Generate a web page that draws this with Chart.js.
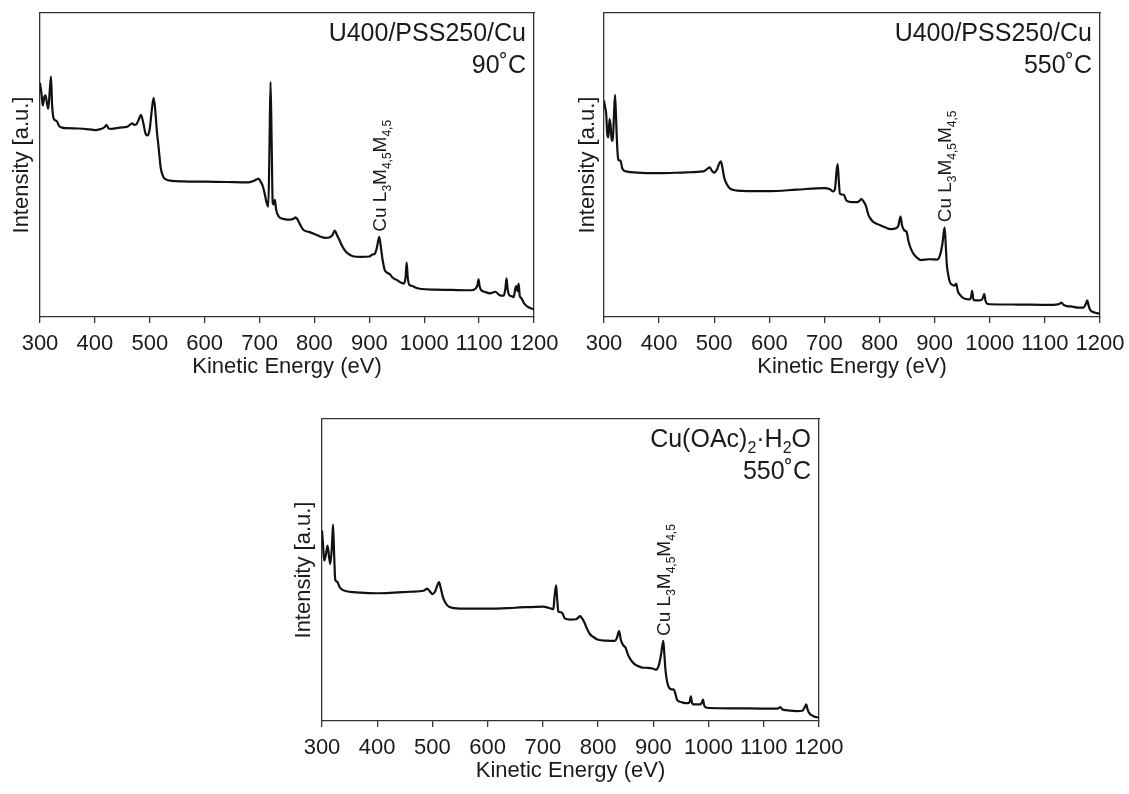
<!DOCTYPE html>
<html>
<head>
<meta charset="utf-8">
<script src="https://cdn.jsdelivr.net/npm/chart.js@4.4.1/dist/chart.umd.min.js"></script>
<style>
  body { margin: 0; background: #fff; width: 1129px; height: 794px; overflow: hidden; position: relative; }
  canvas { position: absolute; }
</style>
</head>
<body>
<canvas id="c1" width="560" height="390" style="left:0px;top:0px"></canvas>
<canvas id="c2" width="564" height="390" style="left:565px;top:0px"></canvas>
<canvas id="c3" width="570" height="404" style="left:280px;top:390px"></canvas>
<script>
// x axis ticks (eV)
var xTicks = [300, 400, 500, 600, 700, 800, 900, 1000, 1100, 1200];
var peakEnergy = 918;

// U400/PSS250/Cu, 90 C
var energy1 = [300,303,305,308,310,313,315,318,320,322,325,330,335,340,350,370,390,400,410,418,421,425,430,445,460,468,472,476,480,484,488,492,496,500,503,507,510,513,516,520,525,530,540,560,600,640,680,690,695,698,702,706,710,713,716,718,720,722,724,726,728,730,735,745,755,762,766,770,775,780,790,800,810,820,828,833,837,841,845,850,855,860,870,885,900,905,910,914,918,921,924,928,933,938,942,950,958,963,966,968,970,973,978,985,995,1020,1050,1085,1093,1097,1099,1101,1104,1110,1120,1130,1135,1140,1145,1148,1150,1152,1155,1160,1163,1166,1168,1170,1172,1174,1177,1182,1190,1200];
var intensity1 = [77,73,69.6,72.5,72.9,70,68.5,75,79.1,70,65.2,64.5,62.8,62.3,62.1,62,61.7,61.5,61.8,62.5,63.2,62,61.9,62.3,62.7,63.7,63.2,63.5,65,66.5,64,60.5,59.7,62,67,72.1,68,61,56,49,46,45.2,44.8,44.6,44.5,44.4,44.3,44.8,45.3,45.5,44.5,43,40,37.5,36.3,55,77.3,58,37.5,37,38.5,35.5,33,32.2,32,32.3,32.8,31.8,30,28.6,28,27.3,26.5,26,26.2,27,28.4,27,25.5,23.5,22,21,20,19.8,19.9,20.5,20.8,23,26.4,23,19,15.5,14.5,14,13,12.2,11.3,11,13,17.9,13,10.5,10.2,9.6,9.2,9,8.9,8.8,9.3,10.5,12.4,10,8.8,8.3,7.8,8.3,7.5,7,7,9.5,12.7,9,7.2,6.8,6.5,9.5,10.2,8.5,11,7,6.2,4.5,3.2,2.5];

// U400/PSS250/Cu, 550 C
var energy2 = [300,302,304,306,308,310,312,314,316,318,320,322,324,326,328,330,333,336,340,360,400,450,480,488,492,496,500,505,509,512,515,518,522,530,550,600,650,700,710,716,719,722,724,726,728,732,735,740,750,760,764,767,771,775,780,785,790,800,810,820,830,834,838,841,845,849,853,858,862,868,875,890,905,910,914,918,920,922,925,928,933,936,939,942,945,950,955,963,966,968,970,973,980,985,988,990,992,995,1000,1050,1100,1120,1126,1130,1134,1140,1150,1160,1170,1174,1177,1179,1182,1190,1200];
var intensity2 = [71.2,69,66.8,60,59.1,65.2,63,58,58,66,73.1,65,55.8,51.8,51.5,51.4,49,48.2,47.9,47.5,47.3,47.6,47.9,48.8,49.2,48,47.5,48.5,50.5,51.2,49,46,44,42.1,41.5,41.4,41.9,42.4,42,41.3,42,48,50.3,45,40.6,40.3,40.2,38.3,37.8,37.8,38.3,38.8,38,36.6,33.5,32,31.1,30.3,29.5,28.9,29.2,30,33,30,28.5,28,24.5,22,20.7,19.5,18.7,19,18.9,20.5,24,29.5,24,17.4,13.5,11.3,10.5,10.3,11,8.5,7.5,6.5,6,5.8,6.5,8.6,6,5.5,5.5,5.6,6.5,7.5,5.5,4.4,4.2,4.1,4,4.1,4.3,4.7,4,3.6,3.4,3.1,3.1,4.2,5.5,4,2.4,1.5,1.1];

// Cu(OAc)2.H2O, 550 C
var energy3 = [300,302,304,307,310,313,315,318,320,322,324,326,328,332,336,340,370,400,430,460,485,490,495,500,505,509,512,515,519,524,530,550,600,650,700,710,715,719,721,724,726,728,733,736,740,750,760,764,767,771,775,780,785,790,800,815,830,834,838,841,845,850,854,858,865,870,880,890,900,905,910,914,918,920,922,925,928,933,937,940,943,950,955,963,966,968,970,973,985,988,990,992,995,1000,1050,1100,1125,1130,1134,1140,1160,1170,1174,1177,1179,1182,1190,1200];
var intensity3 = [63.1,58,53.1,55,58.1,54,52,58,65,55,46.8,46.3,46,44.3,43.6,43.2,42.5,42.3,42.5,42.8,43.2,43.8,43,42,43,45,46,44,41,39,37.8,37.2,37.2,37.5,37.9,37.5,37.2,37,41,44.9,40,36.2,36,35.5,33.9,33.6,33.7,34.2,34.7,34,32.7,30.5,28.8,28,26.9,26.6,26.5,27.5,29.8,27,25.2,24.2,22,20.6,19,18.4,17.7,17.6,17.3,17,18.5,22,26.5,22,16.8,13,11.2,10.5,10.4,9,7,6.3,6,5.9,6.5,8.2,6,5.5,5.5,6.2,7.1,5.2,4.5,4.3,4.2,4.1,4.1,4.6,3.8,3.6,3.3,3.4,4.5,5.5,4,2.7,1.6,1.1];

// sample labels as [text, isSubscript] runs
var sampleNames = [
  [['U400/PSS250/Cu', 0]],
  [['U400/PSS250/Cu', 0]],
  [['Cu(OAc)', 0], ['2', 1], ['\u00b7H', 0], ['2', 1], ['O', 0]]
];
var temperatures = ['90\u02daC', '550\u02daC', '550\u02daC'];
var peakLabel = [['Cu L', 0], ['3', 1], ['M', 0], ['4,5', 1], ['M', 0], ['4,5', 1]];

var FONT = '"Liberation Sans", Arial, sans-serif';
var frame = '#333';
var textColor = '#1a1a1a';

var panels = [
  { id: 'c1', energy: energy1, intensity: intensity1, w: 560, h: 390, l: 40, t: 13, r: 534, b: 317, titleOff: 22 },
  { id: 'c2', energy: energy2, intensity: intensity2, w: 564, h: 390, l: 39, t: 13, r: 535, b: 317, titleOff: 23 },
  { id: 'c3', energy: energy3, intensity: intensity3, w: 570, h: 404, l: 42, t: 29, r: 539, b: 331, titleOff: 24 }
];

function drawRuns(ctx, runs, x, y, size, align) {
  var widths = runs.map(function (r) {
    ctx.font = (r[1] ? Math.round(size * 0.65) : size) + 'px ' + FONT;
    return ctx.measureText(r[0]).width;
  });
  var total = widths.reduce(function (a, b) { return a + b; }, 0);
  var cx = align === 'right' ? x - total : (align === 'center' ? x - total / 2 : x);
  runs.forEach(function (r, i) {
    ctx.font = (r[1] ? Math.round(size * 0.65) : size) + 'px ' + FONT;
    ctx.fillText(r[0], cx, y + (r[1] ? size * 0.25 : 0));
    cx += widths[i];
  });
}

var textPlugin = {
  id: 'annot',
  afterDraw: function (chart, args, opts) {
    var k = opts.panel;
    var p = panels[k];
    var ctx = chart.ctx, area = chart.chartArea;
    ctx.save();
    ctx.fillStyle = textColor;
    ctx.textAlign = 'left';
    ctx.textBaseline = 'alphabetic';
    drawRuns(ctx, sampleNames[k], area.right - 8, area.top + 28, 25, 'right');
    drawRuns(ctx, [[temperatures[k], 0]], area.right - 8, area.top + 60, 25, 'right');
    var i = p.energy.indexOf(peakEnergy);
    var px = chart.scales.x.getPixelForValue(peakEnergy);
    var py = chart.scales.y.getPixelForValue(p.intensity[i]) - 5;
    ctx.translate(px, py);
    ctx.rotate(-Math.PI / 2);
    drawRuns(ctx, peakLabel, 0, 19 * 0.36, 19, 'left');
    ctx.restore();
  }
};

panels.forEach(function (p, k) {
  var points = p.energy.map(function (e, i) { return { x: e, y: p.intensity[i] }; });
  new Chart(document.getElementById(p.id), {
    type: 'line',
    data: {
      datasets: [{
        data: points,
        borderColor: '#111',
        borderWidth: 2.2,
        pointRadius: 0,
        fill: false,
        cubicInterpolationMode: 'monotone'
      }]
    },
    options: {
      responsive: false,
      animation: false,
      events: [],
      layout: { padding: { top: p.t, right: p.w - p.r, left: 0, bottom: 0 } },
      plugins: {
        legend: { display: false },
        tooltip: { enabled: false },
        annot: { panel: k }
      },
      scales: {
        x: {
          type: 'linear', position: 'bottom', min: 300, max: 1200,
          afterBuildTicks: function (s) { s.ticks = xTicks.map(function (v) { return { value: v }; }); },
          afterFit: function (s) {
            s.height = p.h - p.b;
            // edge labels may overhang the plot; keep the plot box where it is
            s.paddingLeft = 0;
            s.paddingRight = 0;
          },
          ticks: { color: textColor, font: { family: FONT, size: 22 }, padding: 8, maxRotation: 0, autoSkip: false,
                   callback: function (v) { return String(v); } },
          grid: { drawOnChartArea: false, tickLength: 6, color: frame, lineWidth: 1.3 },
          border: { color: frame, width: 1.3 },
          title: { display: true, text: 'Kinetic Energy (eV)', color: textColor, font: { family: FONT, size: 22 }, padding: { top: 0, bottom: 10 } }
        },
        y: {
          position: 'left', min: 0, max: 100,
          afterFit: function (s) { s.width = p.l; },
          ticks: { display: false },
          grid: { display: false },
          border: { color: frame, width: 1.3 },
          title: { display: true, text: 'Intensity [a.u.]', color: textColor, font: { family: FONT, size: 22 }, padding: { top: p.titleOff - 13, bottom: 0 } }
        },
        xTop: {
          type: 'linear', position: 'top', min: 300, max: 1200,
          afterFit: function (s) { s.height = 0; },
          ticks: { display: false },
          grid: { display: false },
          border: { color: frame, width: 1.3 }
        },
        yRight: {
          position: 'right', min: 0, max: 100,
          afterFit: function (s) { s.width = 0; },
          ticks: { display: false },
          grid: { display: false },
          border: { color: frame, width: 1.3 }
        }
      }
    },
    plugins: [textPlugin]
  });
});
</script>
</body>
</html>
